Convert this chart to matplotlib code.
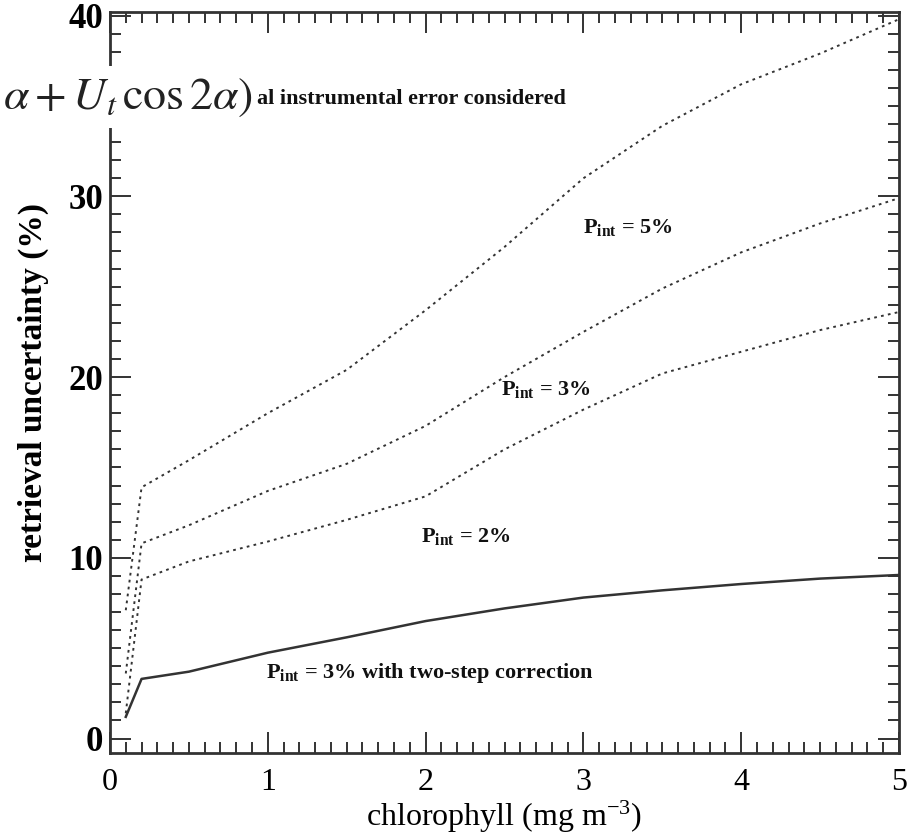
import matplotlib
matplotlib.use("Agg")
import matplotlib.pyplot as plt
from matplotlib.patches import Rectangle
from matplotlib.ticker import MultipleLocator

plt.rcParams["font.family"] = ["Liberation Serif", "DejaVu Serif"]
plt.rcParams["mathtext.fontset"] = "custom"
plt.rcParams["mathtext.rm"] = "Liberation Serif"
plt.rcParams["mathtext.it"] = "Liberation Serif:italic"
plt.rcParams["mathtext.bf"] = "Liberation Serif:bold"

# chlorophyll (mg m-3)
chl = [0.1, 0.2, 0.5, 1.0, 1.5, 2.0, 2.5, 3.0, 3.5, 4.0, 4.5, 5.0]
# retrieval uncertainty (%)
p5 = [7.1, 13.9, 15.4, 18.0, 20.4, 23.7, 27.2, 31.0, 33.9, 36.2, 37.9, 39.8]
p3 = [3.6, 10.8, 11.8, 13.7, 15.2, 17.3, 20.0, 22.5, 24.9, 26.9, 28.5, 29.9]
p2 = [1.4, 8.8, 9.8, 10.9, 12.1, 13.4, 16.0, 18.2, 20.2, 21.4, 22.6, 23.6]
p3_two_step = [1.2, 3.3, 3.7, 4.75, 5.6, 6.5, 7.2, 7.8, 8.2, 8.55, 8.85, 9.05]

W, H = 918, 840
ink = "#333333"

fig = plt.figure(figsize=(W / 100, H / 100), dpi=100)
ax = fig.add_axes([110 / W, (H - 753) / H, (899 - 110) / W, (753 - 12) / H])

dots = (0, (1.4, 2.2))
for ys in (p5, p3, p2):
    ax.plot(chl, ys, color=ink, lw=1.4, ls=dots)
ax.plot(chl, p3_two_step, color=ink, lw=1.8)

ax.set_xlim(0, 5)
ax.set_ylim(-0.8, 40.2)
ax.xaxis.set_major_locator(MultipleLocator(1))
ax.xaxis.set_minor_locator(MultipleLocator(0.1))
ax.yaxis.set_major_locator(MultipleLocator(10))
ax.yaxis.set_minor_locator(MultipleLocator(1))
ax.tick_params(which="both", direction="in", top=True, right=True, color=ink, width=1.4)
ax.tick_params(which="major", length=15)
ax.tick_params(which="minor", length=8)
ax.tick_params(axis="y", labelsize=25, pad=5)
ax.tick_params(axis="x", labelsize=23, pad=11)
for lab in ax.get_yticklabels():
    lab.set_fontweight("bold")
for sp in ax.spines.values():
    sp.set_color(ink)
    sp.set_linewidth(2)

ax.set_xlabel(r"chlorophyll (mg m$^{-3}$)", fontsize=23, labelpad=1)
ax.set_ylabel("retrieval uncertainty (%)", fontsize=24, fontweight="bold", labelpad=14)

lab_kw = dict(fontsize=16, fontweight="bold", va="center", color="#111111")
ax.text(3.0, 28.3, r"P$_{\mathbf{int}}$ = 5%", **lab_kw)
ax.text(2.48, 19.3, r"P$_{\mathbf{int}}$ = 3%", **lab_kw)
ax.text(1.97, 11.2, r"P$_{\mathbf{int}}$ = 2%", **lab_kw)
ax.text(0.99, 3.6, r"P$_{\mathbf{int}}$ = 3% with two-step correction", **lab_kw)
ax.text(0.93, 35.4, "al instrumental error considered", **lab_kw)

# pasted formula fragment covering the top-left corner
fig.patches.append(Rectangle((0, (H - 128) / H), 250 / W, 62 / H,
                             transform=fig.transFigure, facecolor="white",
                             edgecolor="none", zorder=5))
fig.text(3 / W, (H - 98) / H, r"$\alpha + U_t\,\cos 2\alpha)$", fontsize=33,
         va="center", ha="left", color="#222222", zorder=6,
         math_fontfamily="stix")

fig.savefig("out.png", dpi=100)
